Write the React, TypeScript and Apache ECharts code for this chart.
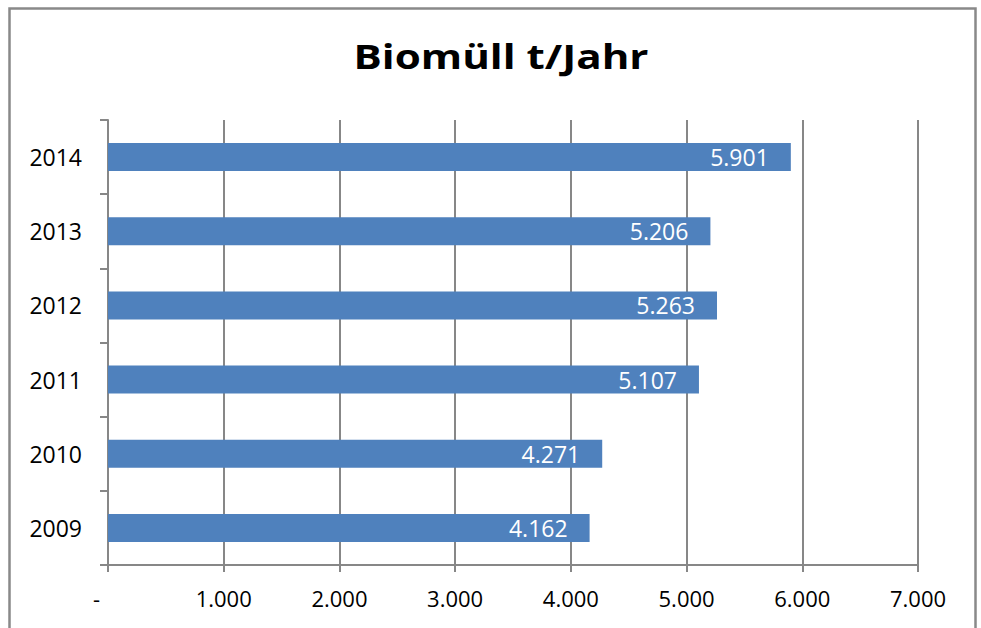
import React, { useEffect, useRef } from "react";
import * as echarts from "echarts";

const title = "Biomüll t/Jahr";
const years = ["2009", "2010", "2011", "2012", "2013", "2014"];
const values = [4162, 4271, 5107, 5263, 5206, 5901];
const xTicks = [0, 1000, 2000, 3000, 4000, 5000, 6000, 7000];

const fmt = (v: number) => {
  if (v === 0) return "-";
  const s = Math.round(v).toString();
  return s.replace(/\B(?=(\d{3})+(?!\d))/g, ".");
};

export default function App() {
  const ref = useRef<HTMLDivElement>(null);
  useEffect(() => {
    if (!ref.current) return;
    const chart = echarts.init(ref.current, undefined, { renderer: "svg" });
    const font = "'Open Sans', 'Noto Sans', sans-serif";
    const grey = "#878787";
    chart.setOption({
      animation: false,
      backgroundColor: "#fff",
      graphic: [
        {
          type: "rect",
          shape: { x: 9.5, y: 8.5, width: 966, height: 640 },
          style: { fill: "none", stroke: "#898989", lineWidth: 2.5 },
          silent: true,
        },
        {
          type: "text",
          x: 501,
          y: 56,
          scaleX: 1.24,
          style: {
            text: title,
            align: "center",
            verticalAlign: "middle",
            fontFamily: font,
            fontWeight: "bold",
            fontSize: 34,
            fill: "#000",
          },
          silent: true,
        },
      ],
      grid: { left: 108, top: 120, right: 63, bottom: 63, containLabel: false },
      xAxis: {
        type: "value",
        min: xTicks[0],
        max: xTicks[xTicks.length - 1],
        interval: 1000,
        axisLine: { show: true, lineStyle: { color: grey, width: 2 } },
        axisTick: { show: true, length: 7, lineStyle: { color: grey, width: 2 } },
        splitLine: { show: true, lineStyle: { color: grey, width: 2 } },
        axisLabel: {
          formatter: (v: number) => (v === 0 ? "-\u00a0\u00a0\u00a0\u00a0" : fmt(v)),
          fontFamily: font,
          fontSize: 22,
          color: "#000",
          margin: 22,
        },
      },
      yAxis: {
        type: "category",
        data: years,
        boundaryGap: true,
        axisLine: { show: true, lineStyle: { color: grey, width: 2 } },
        axisTick: { show: true, length: 8, alignWithLabel: false, lineStyle: { color: grey, width: 2 } },
        axisLabel: { fontFamily: font, fontSize: 23, color: "#000", margin: 26 },
      },
      series: [
        {
          type: "bar",
          data: values,
          barWidth: 28,
          itemStyle: { color: "#4F81BD" },
          label: {
            show: true,
            position: "insideRight",
            distance: 22,
            formatter: (p: any) => fmt(p.value),
            color: "#fff",
            fontFamily: font,
            fontSize: 23,
          },
        },
      ],
    });
    return () => chart.dispose();
  }, []);
  return <div ref={ref} style={{ width: 981, height: 628, position: "absolute", left: 0, top: 0 }} />;
}
